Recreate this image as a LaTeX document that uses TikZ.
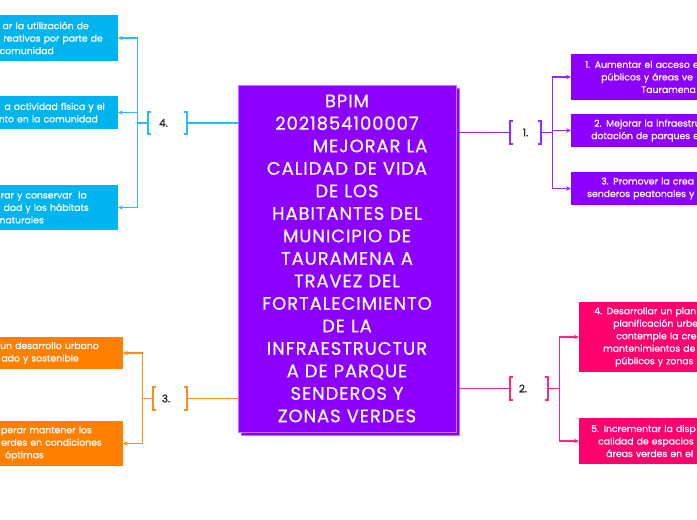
\documentclass[tikz,border=0pt]{standalone}
\usepackage{fontspec}
\usepackage{tikz}
\usetikzlibrary{arrows.meta, positioning, shadows}
\newfontfamily\goalfont{Poppins}[FakeBold=0.9]
\newfontfamily\titlefont{Poppins}[FakeBold=0.6, LetterSpace=5]
\definecolor{mmPurple}{RGB}{139,0,255}
\definecolor{mmBlue}{RGB}{0,180,240}
\definecolor{mmOrange}{RGB}{255,128,0}
\definecolor{mmPink}{RGB}{255,0,110}
\definecolor{lnPurple}{RGB}{150,40,255}
\definecolor{lnBlue}{RGB}{40,190,245}
\definecolor{lnOrange}{RGB}{255,140,30}
\definecolor{lnPink}{RGB}{255,40,125}
\newcommand{\gapbox}[1]{\leavevmode\hbox to #1pt{}}
\newcommand{\drawbrackets}[2]{%
  \draw[#2, line width=1.8pt]
    ([xshift=3pt]#1.north west) -| (#1.south west) -- ++(3,0)
    ([xshift=-3pt]#1.north east) -| (#1.south east) -- ++(-3,0);}

\begin{document}
\begin{tikzpicture}[
    x=1pt, y=-1pt,
    centre/.style = {fill=mmPurple, draw=mmPurple!55!white, line width=0.8pt,
                     text=white, align=center, text width=214pt,
                     minimum width=218pt, minimum height=347pt, inner sep=0pt,
                     font=\titlefont\fontsize{18}{22.5}\selectfont,
                     copy shadow={shadow xshift=3pt, shadow yshift=-3pt}},
    goalL/.style  = {fill=#1, text=white, anchor=east, text width=170pt,
                     align=right, inner sep=0pt,
                     font=\goalfont\fontsize{9.3}{12.5}\selectfont},
    goalR/.style  = {fill=#1, text=white, anchor=west, text width=170pt,
                     align=left, inner sep=0pt,
                     font=\goalfont\fontsize{9.3}{12.5}\selectfont},
    tag/.style    = {minimum height=22pt, inner sep=0pt, text=black!85,
                     font=\goalfont\fontsize{10.5}{12}\selectfont},
    link/.style   = {draw=#1, line width=1.3pt},
    branch/.style = {draw=#1, line width=1.3pt,
                     -{Stealth[length=5pt,width=4.5pt]}}
]
\useasboundingbox (0,0) rectangle (697,520);
\clip (0,0) rectangle (697,520);
\fill[white] (0,0) rectangle (697,520);

% Central project box
\node[centre] (bpim) at (347,258.5) {%
    BPIM\\2021854100007\\\gapbox{46}MEJORAR LA\\CALIDAD DE VIDA\\DE LOS\\
    HABITANTES DEL\\MUNICIPIO DE\\TAURAMENA A\\TRAVEZ DEL\\FORTALECIMIENTO\\
    DE LA\\INFRAESTRUCTUR\\A DE PARQUE\\SENDEROS Y\\ZONAS VERDES};

% Branch tags with brackets
\node[tag, minimum width=31pt] (tag1) at (525.5,132.5) {1.};
\node[tag, minimum width=38pt] (tag2) at (529,388.5) {2.\gapbox{12}};
\node[tag, minimum width=34pt] (tag3) at (170,398.5) {3.\gapbox{8}};
\node[tag, minimum width=39pt] (tag4) at (167.5,123) {4.\gapbox{8}};

\drawbrackets{tag1}{lnPurple}
\drawbrackets{tag2}{lnPink}
\drawbrackets{tag3}{lnOrange}
\drawbrackets{tag4}{lnBlue}

% Goals of branch 4 (left, blue)
\node[goalL=mmBlue, minimum height=46pt] (goal41) at (118,38)
    {ar la utilización de\gapbox{29}\\reativos por parte de\gapbox{15}\\comunidad\gapbox{64}};
\node[goalL=mmBlue, minimum height=33pt] (goal42) at (118,112.5)
    {a actividad física y el\gapbox{13}\\nto en la comunidad\gapbox{20}};
\node[goalL=mmBlue, minimum height=45pt] (goal43) at (118,207.5)
    {rar y conservar\ \ la\gapbox{31}\\dad y los hábitats\gapbox{29}\\naturales\gapbox{74}};

% Goals of branch 3 (left, orange)
\node[goalL=mmOrange, minimum height=32pt] (goal31) at (123,353)
    {un desarrollo urbano\gapbox{24}\\ado y sostenible\gapbox{44}};
\node[goalL=mmOrange, minimum height=45pt] (goal32) at (123,443.5)
    {perar mantener los\gapbox{31}\\erdes en condiciones\gapbox{21}\\óptimas\gapbox{79}};

% Goals of branch 1 (right, purple)
\node[goalR=mmPurple, minimum height=46pt] (goal11) at (571,77)
    {\gapbox{14}1. Aumentar el acceso e\\\gapbox{30}públicos y áreas ve\\\gapbox{70}Tauramena};
\node[goalR=mmPurple, minimum height=33pt] (goal12) at (571,130.5)
    {\gapbox{23}2. Mejorar la infraestru\\\gapbox{20}dotación de parques e};
\node[goalR=mmPurple, minimum height=33pt] (goal13) at (571,188.5)
    {\gapbox{30}3. Promover la crea\\\gapbox{16}senderos peatonales y};

% Goals of branch 2 (right, pink)
\node[goalR=mmPink, minimum height=70pt] (goal21) at (579,337)
    {\gapbox{15}4. Desarrollar un plan\\\gapbox{34}planificación urbe\\\gapbox{37}contemple la cre\\
     \gapbox{24}mantenimientos de\\\gapbox{36}públicos y zonas};
\node[goalR=mmPink, minimum height=46pt] (goal22) at (579,441)
    {\gapbox{12}5. Incrementar la disp\\\gapbox{19}calidad de espacios\\\gapbox{27}áreas verdes en el};

% Connectors: centre to tags
\draw[link=lnBlue]   (bpim.west |- tag4) -- (tag4.east);
\draw[link=lnOrange] (bpim.west |- tag3) -- (tag3.east);
\draw[link=lnPurple] ([xshift=3pt]bpim.east |- tag1) -- (tag1.west);
\draw[link=lnPink]   ([xshift=3pt]bpim.east |- tag2) -- (tag2.west);

% Connectors: tags to goals
\draw[branch=lnBlue] (tag4.west) -- ++(-10,0) |- (goal41.east);
\draw[branch=lnBlue] (tag4.west) -- ++(-10,0) |- (goal42.east);
\draw[branch=lnBlue] (tag4.west) -- ++(-10,0) |- (goal43.east);
\draw[branch=lnOrange] (tag3.west) -- ++(-10,0) |- (goal31.east);
\draw[branch=lnOrange] (tag3.west) -- ++(-10,0) |- (goal32.east);
\draw[branch=lnPurple] (tag1.east) -- ++(11,0) |- (goal11.west);
\draw[branch=lnPurple] (tag1.east) -- ++(11,0) |- (goal12.west);
\draw[branch=lnPurple] (tag1.east) -- ++(11,0) |- (goal13.west);
\draw[branch=lnPink] (tag2.east) -- ++(11,0) |- (goal21.west);
\draw[branch=lnPink] (tag2.east) -- ++(11,0) |- (goal22.west);

\end{tikzpicture}
\end{document}
